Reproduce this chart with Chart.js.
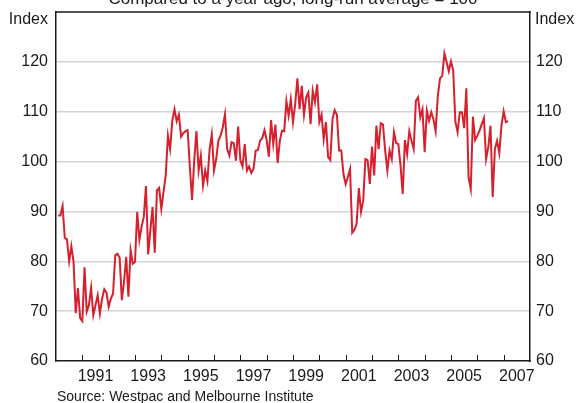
<!DOCTYPE html>
<html>
<head>
<meta charset="utf-8">
<script src="https://cdn.jsdelivr.net/npm/chart.js@4.4.1/dist/chart.umd.min.js"></script>
<style>
    body { margin: 0; background: #fff; }
    #wrap { position: relative; width: 579px; height: 403px; }
</style>
</head>
<body>
<div id="wrap"><canvas id="myChart"></canvas></div>
<script>
// Consumer sentiment index, monthly from Feb 1990
var startYear = 1990;
var startMonth = 1; // 0 = January
var sentiment = [
    89.2, 89.2, 91.1, 84.7, 84.4, 80.0, 83.0, 79.9, 69.6, 74.6, 68.6, 68.0,
    78.8, 69.9, 71.2, 74.7, 69.2, 71.2, 73.2, 69.5, 72.5, 74.4, 73.7, 70.9,
    72.5, 73.5, 81.2, 81.5, 80.7, 72.2, 75.9, 80.9, 72.9, 82.2, 79.5, 79.9,
    89.9, 84.3, 86.9, 88.9, 95.1, 81.4, 86.2, 90.9, 81.7, 94.2, 94.7, 90.5,
    93.9, 97.2, 105.2, 102.5, 108.2, 110.5, 108.1, 109.4, 105.0, 105.7, 106.1, 106.3,
    98.9, 92.3, 100.3, 106.1, 98.2, 101.2, 95.2, 98.2, 96.1, 102.5, 105.5, 98.2,
    100.5, 104.2, 105.2, 106.9, 109.5, 102.5, 101.2, 103.9, 103.7, 100.2, 107.0, 100.3,
    99.0, 103.5, 98.2, 99.0, 97.7, 98.5, 102.2, 102.3, 104.2, 104.7, 106.3, 104.3,
    101.0, 108.3, 103.5, 107.4, 99.7, 104.2, 106.2, 106.1, 112.1, 109.2, 112.5, 107.9,
    111.5, 116.7, 110.5, 115.2, 109.4, 112.9, 113.9, 107.5, 114.2, 111.9, 115.5, 107.9,
    109.4, 104.5, 107.9, 100.9, 100.3, 108.5, 110.3, 109.4, 102.2, 102.2, 97.5, 95.5,
    96.9, 98.5, 85.7, 86.3, 87.5, 94.7, 89.9, 92.2, 100.5, 100.3, 95.5, 103.0,
    97.2, 107.2, 102.5, 107.7, 107.4, 102.2, 98.2, 102.2, 100.5, 105.9, 103.7, 103.5,
    99.2, 93.5, 104.3, 101.5, 106.1, 104.2, 102.5, 112.2, 112.9, 108.9, 110.5, 101.9,
    110.2, 108.2, 109.9, 108.5, 106.1, 113.2, 116.7, 117.2, 121.7, 119.9, 118.1, 120.1,
    118.3, 108.0, 105.9, 109.9, 109.9, 106.7, 114.7, 96.9, 94.5, 109.0, 104.3, 105.2,
    106.2, 107.5, 108.7, 100.5, 102.9, 107.2, 92.9, 102.5, 104.2, 101.7, 107.2, 110.1,
    107.9, 108.1
];
var yearTicks = [1991, 1992, 1993, 1994, 1995, 1996, 1997, 1998, 1999, 2000, 2001, 2002, 2003, 2004, 2005, 2006, 2007];
var yearLabels = [1991, 1993, 1995, 1997, 1999, 2001, 2003, 2005, 2007];
var yMin = 60, yMax = 130, yStep = 10;
var titleText = 'Compared to a year ago, long-run average = 100';
var unitText = 'Index';
var sourceText = 'Source: Westpac and Melbourne Institute';

document.addEventListener('DOMContentLoaded', function () {
    var fontFamily = '"Liberation Sans", Arial, Helvetica, sans-serif';
    var ink = '#1a1a1a';

    var points = sentiment.map(function (v, i) {
        return {x: startYear + (startMonth + i) / 12, y: v};
    });

    // frame top, inner year ticks and the loose texts
    var extrasPlugin = {
        id: 'extras',
        afterDraw: function (chart) {
            var ctx = chart.ctx;
            var area = chart.chartArea;
            var xs = chart.scales.x;
            ctx.save();
            ctx.strokeStyle = ink;
            ctx.lineWidth = 1.5;
            ctx.beginPath();
            ctx.moveTo(area.left - 0.75, area.top);
            ctx.lineTo(area.right + 0.75, area.top);
            ctx.stroke();

            ctx.lineWidth = 1;
            yearTicks.forEach(function (yr) {
                var px = Math.round(xs.getPixelForValue(yr)) + 0.5;
                ctx.beginPath();
                ctx.moveTo(px, area.bottom);
                ctx.lineTo(px, area.bottom - 6);
                ctx.stroke();
            });

            ctx.fillStyle = ink;
            ctx.font = '17px ' + fontFamily;
            ctx.textBaseline = 'alphabetic';
            ctx.textAlign = 'center';
            ctx.fillText(titleText, (area.left + area.right) / 2, 4);

            ctx.font = '16px ' + fontFamily;
            ctx.textBaseline = 'middle';
            ctx.textAlign = 'right';
            ctx.fillText(unitText, area.left - 8, 20);
            ctx.textAlign = 'left';
            ctx.fillText(unitText, area.right + 5, 20);

            ctx.font = '14px ' + fontFamily;
            ctx.textAlign = 'left';
            ctx.fillText(sourceText, area.left + 1, 397);
            ctx.restore();
        }
    };

    var yTick = {
        font: {family: fontFamily, size: 16},
        color: ink,
        stepSize: yStep,
        callback: function (v) { return v === yMax ? '' : v; }
    };

    // fixed side widths, and no extra room asked for the end labels
    function fitY(width) {
        return function (scale) {
            scale.width = width;
            scale.paddingTop = 0;
            scale.paddingBottom = 0;
        };
    }

    var ctx = document.getElementById('myChart').getContext('2d');
    var chart = new Chart(ctx, {
        type: 'line',
        data: {
            datasets: [{
                label: 'Consumer sentiment',
                data: points,
                borderColor: '#d7202d',
                borderWidth: 2,
                pointRadius: 0,
                tension: 0,
                fill: false
            }]
        },
        options: {
            responsive: true,
            maintainAspectRatio: false,
            animation: false,
            layout: {padding: {top: 12, bottom: 0, left: 0, right: 0}},
            plugins: {
                legend: {display: false},
                tooltip: {enabled: false}
            },
            scales: {
                x: {
                    type: 'linear',
                    min: 1990,
                    max: 2008,
                    afterBuildTicks: function (scale) {
                        scale.ticks = yearLabels.map(function (y) { return {value: y + 0.5}; });
                    },
                    afterFit: function (scale) {
                        scale.height = 42;
                        scale.paddingLeft = 0;
                        scale.paddingRight = 0;
                    },
                    ticks: {
                        font: {family: fontFamily, size: 16},
                        color: ink,
                        padding: -2,
                        maxRotation: 0,
                        autoSkip: false,
                        callback: function (v) { return String(Math.floor(v)); }
                    },
                    grid: {display: false},
                    border: {display: true, color: ink, width: 1.5}
                },
                y: {
                    position: 'left',
                    min: yMin,
                    max: yMax,
                    afterFit: fitY(56),
                    ticks: Object.assign({padding: 8}, yTick),
                    grid: {
                        drawTicks: false,
                        lineWidth: 1.5,
                        color: function (c) {
                            var v = c.tick.value;
                            return (v === yMin || v === yMax) ? 'rgba(0,0,0,0)' : '#d2d5d8';
                        }
                    },
                    border: {display: true, color: ink, width: 1.5}
                },
                y2: {
                    position: 'right',
                    min: yMin,
                    max: yMax,
                    afterFit: fitY(49),
                    ticks: Object.assign({padding: 6}, yTick),
                    grid: {drawTicks: false, drawOnChartArea: false},
                    border: {display: true, color: ink, width: 1.5}
                }
            }
        },
        plugins: [extrasPlugin]
    });
});
</script>
</body>
</html>
